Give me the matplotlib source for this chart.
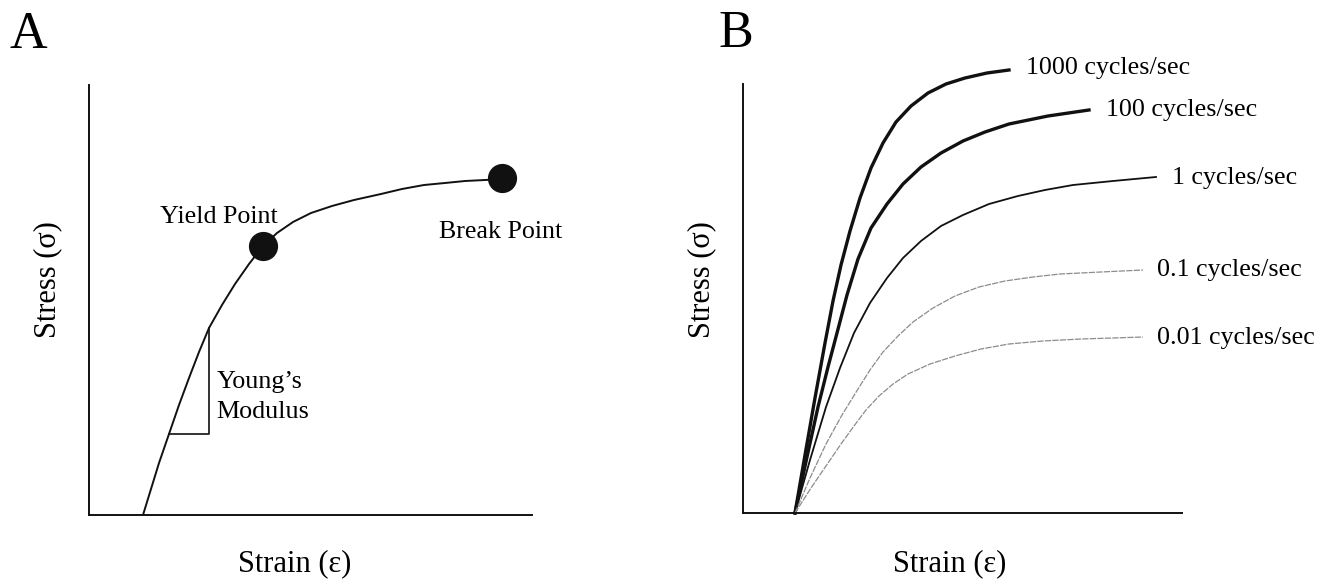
import matplotlib.pyplot as plt

plt.rcParams['font.family'] = ['Liberation Serif', 'DejaVu Serif']

# panel A: stress-strain curve (arbitrary units)
strain_a = [54, 62, 70, 80, 90, 100, 110, 120, 133, 146, 160, 174, 188, 204,
            222, 243, 265, 292, 313, 335, 356, 376, 396, 416]
stress_a = [0, 26, 52, 81, 110, 137, 163, 187, 210, 231, 251, 269, 282, 293,
            302, 309, 315, 321, 326, 330, 332, 334, 335, 336]
yield_pt = (174, 269)
break_pt = (413, 337)
# young's modulus triangle corners
tri_x = [80, 120, 120]
tri_y = [81, 81, 187]

# panel B: curves at different rates
rate_labels = ['1000 cycles/sec', '100 cycles/sec', '1 cycles/sec',
               '0.1 cycles/sec', '0.01 cycles/sec']
strain_1000 = [52, 62, 72, 82, 90, 98, 107, 117, 128, 140, 153, 168, 185, 203,
               222, 244, 266]
stress_1000 = [0, 58, 115, 170, 212, 248, 282, 315, 345, 370, 391, 407, 420, 429,
               435, 440, 443]
strain_100 = [52, 64, 75, 85, 94, 104, 115, 128, 144, 160, 178, 198, 220, 242,
              266, 305, 346]
stress_100 = [0, 56, 106, 146, 180, 218, 254, 285, 309, 329, 346, 360, 372, 381,
              389, 397, 403]
strain_1 = [52, 67, 83, 97, 111, 127, 144, 160, 178, 198, 220, 246, 275, 302,
            330, 370, 413]
stress_1 = [0, 53, 106, 145, 180, 210, 235, 255, 272, 287, 298, 309, 317, 323,
            328, 332, 336]
strain_01 = [52, 67, 83, 99, 115, 127, 140, 155, 170, 190, 212, 236, 262, 290,
             317, 358, 400]
stress_01 = [0, 35, 69, 98, 124, 143, 161, 177, 191, 205, 217, 226, 232, 236,
             239, 241, 243]
strain_001 = [52, 68, 85, 98, 111, 123, 136, 150, 165, 187, 212, 238, 266, 300,
              338, 370, 400]
stress_001 = [0, 25, 50, 69, 87, 103, 117, 129, 139, 149, 157, 164, 169, 172,
              174, 175, 176]
# label anchor (left, baseline) for each curve
label_x = [283, 363, 429, 414, 414]
label_y = [439, 397, 329, 237, 169]

W, H = 1319, 580
fig = plt.figure(figsize=(W / 100, H / 100), dpi=100)


def setup_axes(ax):
    for s in ['top', 'right']:
        ax.spines[s].set_visible(False)
    for s in ['left', 'bottom']:
        ax.spines[s].set_linewidth(1.4)
        ax.spines[s].set_color('#111111')
    ax.set_xticks([])
    ax.set_yticks([])
    ax.patch.set_visible(False)


# ---- panel A ----
ax1 = fig.add_axes([89 / W, 1 - 515 / H, 443 / W, 430 / H])
setup_axes(ax1)
ax1.set_xlim(0, 443)
ax1.set_ylim(0, 430)
ax1.plot(strain_a, stress_a, color='#111111', lw=1.4, solid_joinstyle='round')
ax1.plot(tri_x, tri_y, color='#111111', lw=1.2)
ax1.plot(*yield_pt, 'o', color='#111111', ms=20, clip_on=False)
ax1.plot(*break_pt, 'o', color='#111111', ms=20, clip_on=False)
ax1.text(130, 292, 'Yield Point', fontsize=18.7, ha='center', va='baseline')
ax1.text(412, 277, 'Break Point', fontsize=18.7, ha='center', va='baseline')
ax1.text(128, 127, 'Young\u2019s', fontsize=18.7, ha='left', va='baseline')
ax1.text(127, 97, 'Modulus', fontsize=18.7, ha='left', va='baseline')

fig.text(48 / W, 1 - 280 / H, 'Stress (\u03c3)', fontsize=22, rotation=90,
         ha='center', va='center')
fig.text(295 / W, 1 - 564 / H, 'Strain (\u03b5)', fontsize=22,
         ha='center', va='center')
fig.text(10 / W, 1 - 48 / H, 'A', fontsize=37.5, ha='left', va='baseline')

# ---- panel B ----
ax2 = fig.add_axes([743 / W, 1 - 513 / H, 439 / W, 429 / H])
setup_axes(ax2)
ax2.set_xlim(0, 439)
ax2.set_ylim(0, 429)
ax2.plot(strain_1000, stress_1000, color='#111111', lw=2.4, clip_on=False,
         solid_joinstyle='round')
ax2.plot(strain_100, stress_100, color='#111111', lw=2.4, clip_on=False,
         solid_joinstyle='round')
ax2.plot(strain_1, stress_1, color='#111111', lw=1.3, clip_on=False,
         solid_joinstyle='round')
ax2.plot(strain_01, stress_01, color='#8c8c8c', lw=0.9, ls=(0, (5, 1)),
         clip_on=False)
ax2.plot(strain_001, stress_001, color='#8c8c8c', lw=0.9, ls=(0, (5, 1)),
         clip_on=False)
for lab, lx, ly in zip(rate_labels, label_x, label_y):
    ax2.text(lx, ly, lab, fontsize=18.7, ha='left', va='baseline', clip_on=False)

fig.text(702 / W, 1 - 280 / H, 'Stress (\u03c3)', fontsize=22, rotation=90,
         ha='center', va='center')
fig.text(950 / W, 1 - 564 / H, 'Strain (\u03b5)', fontsize=22,
         ha='center', va='center')
fig.text(718 / W, 1 - 47 / H, 'B', fontsize=37.5, ha='left', va='baseline')

plt.savefig('out.png', dpi=100)
